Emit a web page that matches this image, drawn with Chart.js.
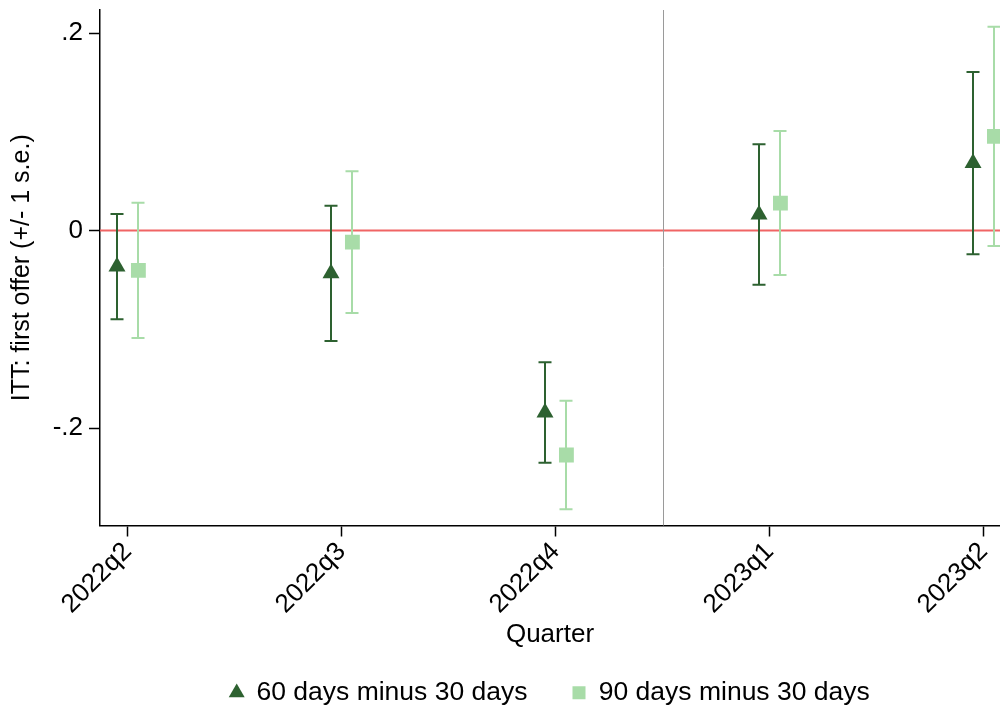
<!DOCTYPE html>
<html>
<head>
<meta charset="utf-8">
<script src="https://cdn.jsdelivr.net/npm/chart.js@4.4.1/dist/chart.umd.min.js"></script>
<style>
  html, body { margin: 0; padding: 0; background: #fff; }
  #wrap { width: 1000px; height: 706px; position: relative; }
</style>
</head>
<body>
<div id="wrap"><canvas id="ittChart"></canvas></div>
<script>
const quarters = ['2022q2', '2022q3', '2022q4', '2023q1', '2023q2'];

// ITT estimates on first offer and their standard errors
const itt60 = [-0.0366, -0.0434, -0.1843, 0.0162, 0.0682];
const se60 = [0.0533, 0.0685, 0.0508, 0.0711, 0.0923];
const itt90 = [-0.0403, -0.0118, -0.2273, 0.0278, 0.0954];
const se90 = [0.0685, 0.0718, 0.0550, 0.0729, 0.1110];

const yTicks = [-0.2, 0, 0.2];
const yTickLabels = ['-.2', '0', '.2'];

const DARK = 'rgb(45,97,48)';
const LIGHT = 'rgb(168,220,168)';
const FONT = "'Liberation Sans', Arial, sans-serif";

// small horizontal dodge so the two series don't overlap
const dodge = 0.05;

// zero line, year break, and +/- 1 s.e. whiskers under the markers
const errorBars = {
  id: 'errorBars',
  beforeDatasetsDraw(chart) {
    const { ctx, chartArea, scales: { x, y } } = chart;
    ctx.save();

    const y0 = y.getPixelForValue(0);
    ctx.strokeStyle = 'rgb(240,100,100)';
    ctx.lineWidth = 2;
    ctx.beginPath();
    ctx.moveTo(chartArea.left, y0);
    ctx.lineTo(chartArea.right, y0);
    ctx.stroke();

    const xb = x.getPixelForValue(2.5);
    ctx.strokeStyle = '#9a9a9a';
    ctx.lineWidth = 1;
    ctx.beginPath();
    ctx.moveTo(Math.round(xb) + 0.5, chartArea.top);
    ctx.lineTo(Math.round(xb) + 0.5, chartArea.bottom);
    ctx.stroke();

    chart.data.datasets.forEach(ds => {
      ctx.strokeStyle = ds.borderColor;
      ctx.lineWidth = 2;
      ds.data.forEach((pt, i) => {
        const px = Math.round(x.getPixelForValue(pt.x));
        const hi = y.getPixelForValue(pt.y + ds.se[i]);
        const lo = y.getPixelForValue(pt.y - ds.se[i]);
        ctx.beginPath();
        ctx.moveTo(px, hi);
        ctx.lineTo(px, lo);
        ctx.moveTo(px - 6.5, hi);
        ctx.lineTo(px + 6.5, hi);
        ctx.moveTo(px - 6.5, lo);
        ctx.lineTo(px + 6.5, lo);
        ctx.stroke();
      });
    });
    ctx.restore();
  },
  afterLayout(chart) {
    // legend sits centred under the plot region, a bit higher than its box
    chart.legend.left = chart.chartArea.left;
    chart.legend.top -= 16;
  }
};

new Chart(document.getElementById('ittChart'), {
  type: 'scatter',
  data: {
    datasets: [
      {
        label: '60 days minus 30 days',
        data: itt60.map((v, i) => ({ x: i - dodge, y: v })),
        se: se60,
        pointStyle: 'triangle',
        pointRadius: 9.8,
        pointHoverRadius: 9.8,
        borderWidth: 0,
        backgroundColor: DARK,
        borderColor: DARK
      },
      {
        label: '90 days minus 30 days',
        data: itt90.map((v, i) => ({ x: i + dodge, y: v })),
        se: se90,
        pointStyle: 'rect',
        pointRadius: 10.5,
        pointHoverRadius: 10.5,
        borderWidth: 0,
        backgroundColor: LIGHT,
        borderColor: LIGHT
      }
    ]
  },
  options: {
    responsive: true,
    maintainAspectRatio: false,
    animation: false,
    layout: { autoPadding: false, padding: { top: 10, right: 0, left: 0, bottom: -26 } },
    plugins: {
      tooltip: { enabled: false },
      legend: {
        position: 'bottom',
        labels: {
          usePointStyle: true,
          boxWidth: 13,
          boxHeight: 13,
          padding: 45,
          color: '#000',
          font: { family: FONT, size: 26.5 }
        }
      }
    },
    scales: {
      x: {
        type: 'linear',
        min: -0.1294,
        max: 4.076,
        afterBuildTicks: axis => { axis.ticks = quarters.map((q, i) => ({ value: i })); },
        afterFit: axis => {
          axis.height = 125;
          axis.paddingLeft = 0;
          axis.paddingRight = 0;
        },
        grid: {
          drawOnChartArea: false,
          drawTicks: true,
          tickLength: 11,
          tickColor: '#000',
          tickWidth: 1.5
        },
        border: { color: '#000', width: 1.5 },
        ticks: {
          minRotation: 45,
          maxRotation: 45,
          padding: 0,
          color: '#000',
          font: { family: FONT, size: 26 },
          callback: v => quarters[v]
        },
        title: {
          display: true,
          text: 'Quarter',
          color: '#000',
          padding: { top: 0, bottom: 0 },
          font: { family: FONT, size: 26 }
        }
      },
      y: {
        min: -0.2987,
        max: 0.2233,
        afterBuildTicks: axis => { axis.ticks = yTicks.map(v => ({ value: v })); },
        afterFit: axis => {
          axis.width = 100;
          axis.paddingTop = 0;
          axis.paddingBottom = 0;
        },
        grid: {
          drawOnChartArea: false,
          tickLength: 11,
          tickColor: '#000',
          tickWidth: 1.5
        },
        border: { color: '#000', width: 1.5 },
        ticks: {
          padding: 6,
          color: '#000',
          font: { family: FONT, size: 26 },
          callback: v => yTickLabels[yTicks.indexOf(v)]
        },
        title: {
          display: true,
          text: 'ITT: first offer (+/- 1 s.e.)',
          color: '#000',
          padding: { top: 7, bottom: 0 },
          font: { family: FONT, size: 25 }
        }
      }
    }
  },
  plugins: [errorBars]
});
</script>
</body>
</html>
